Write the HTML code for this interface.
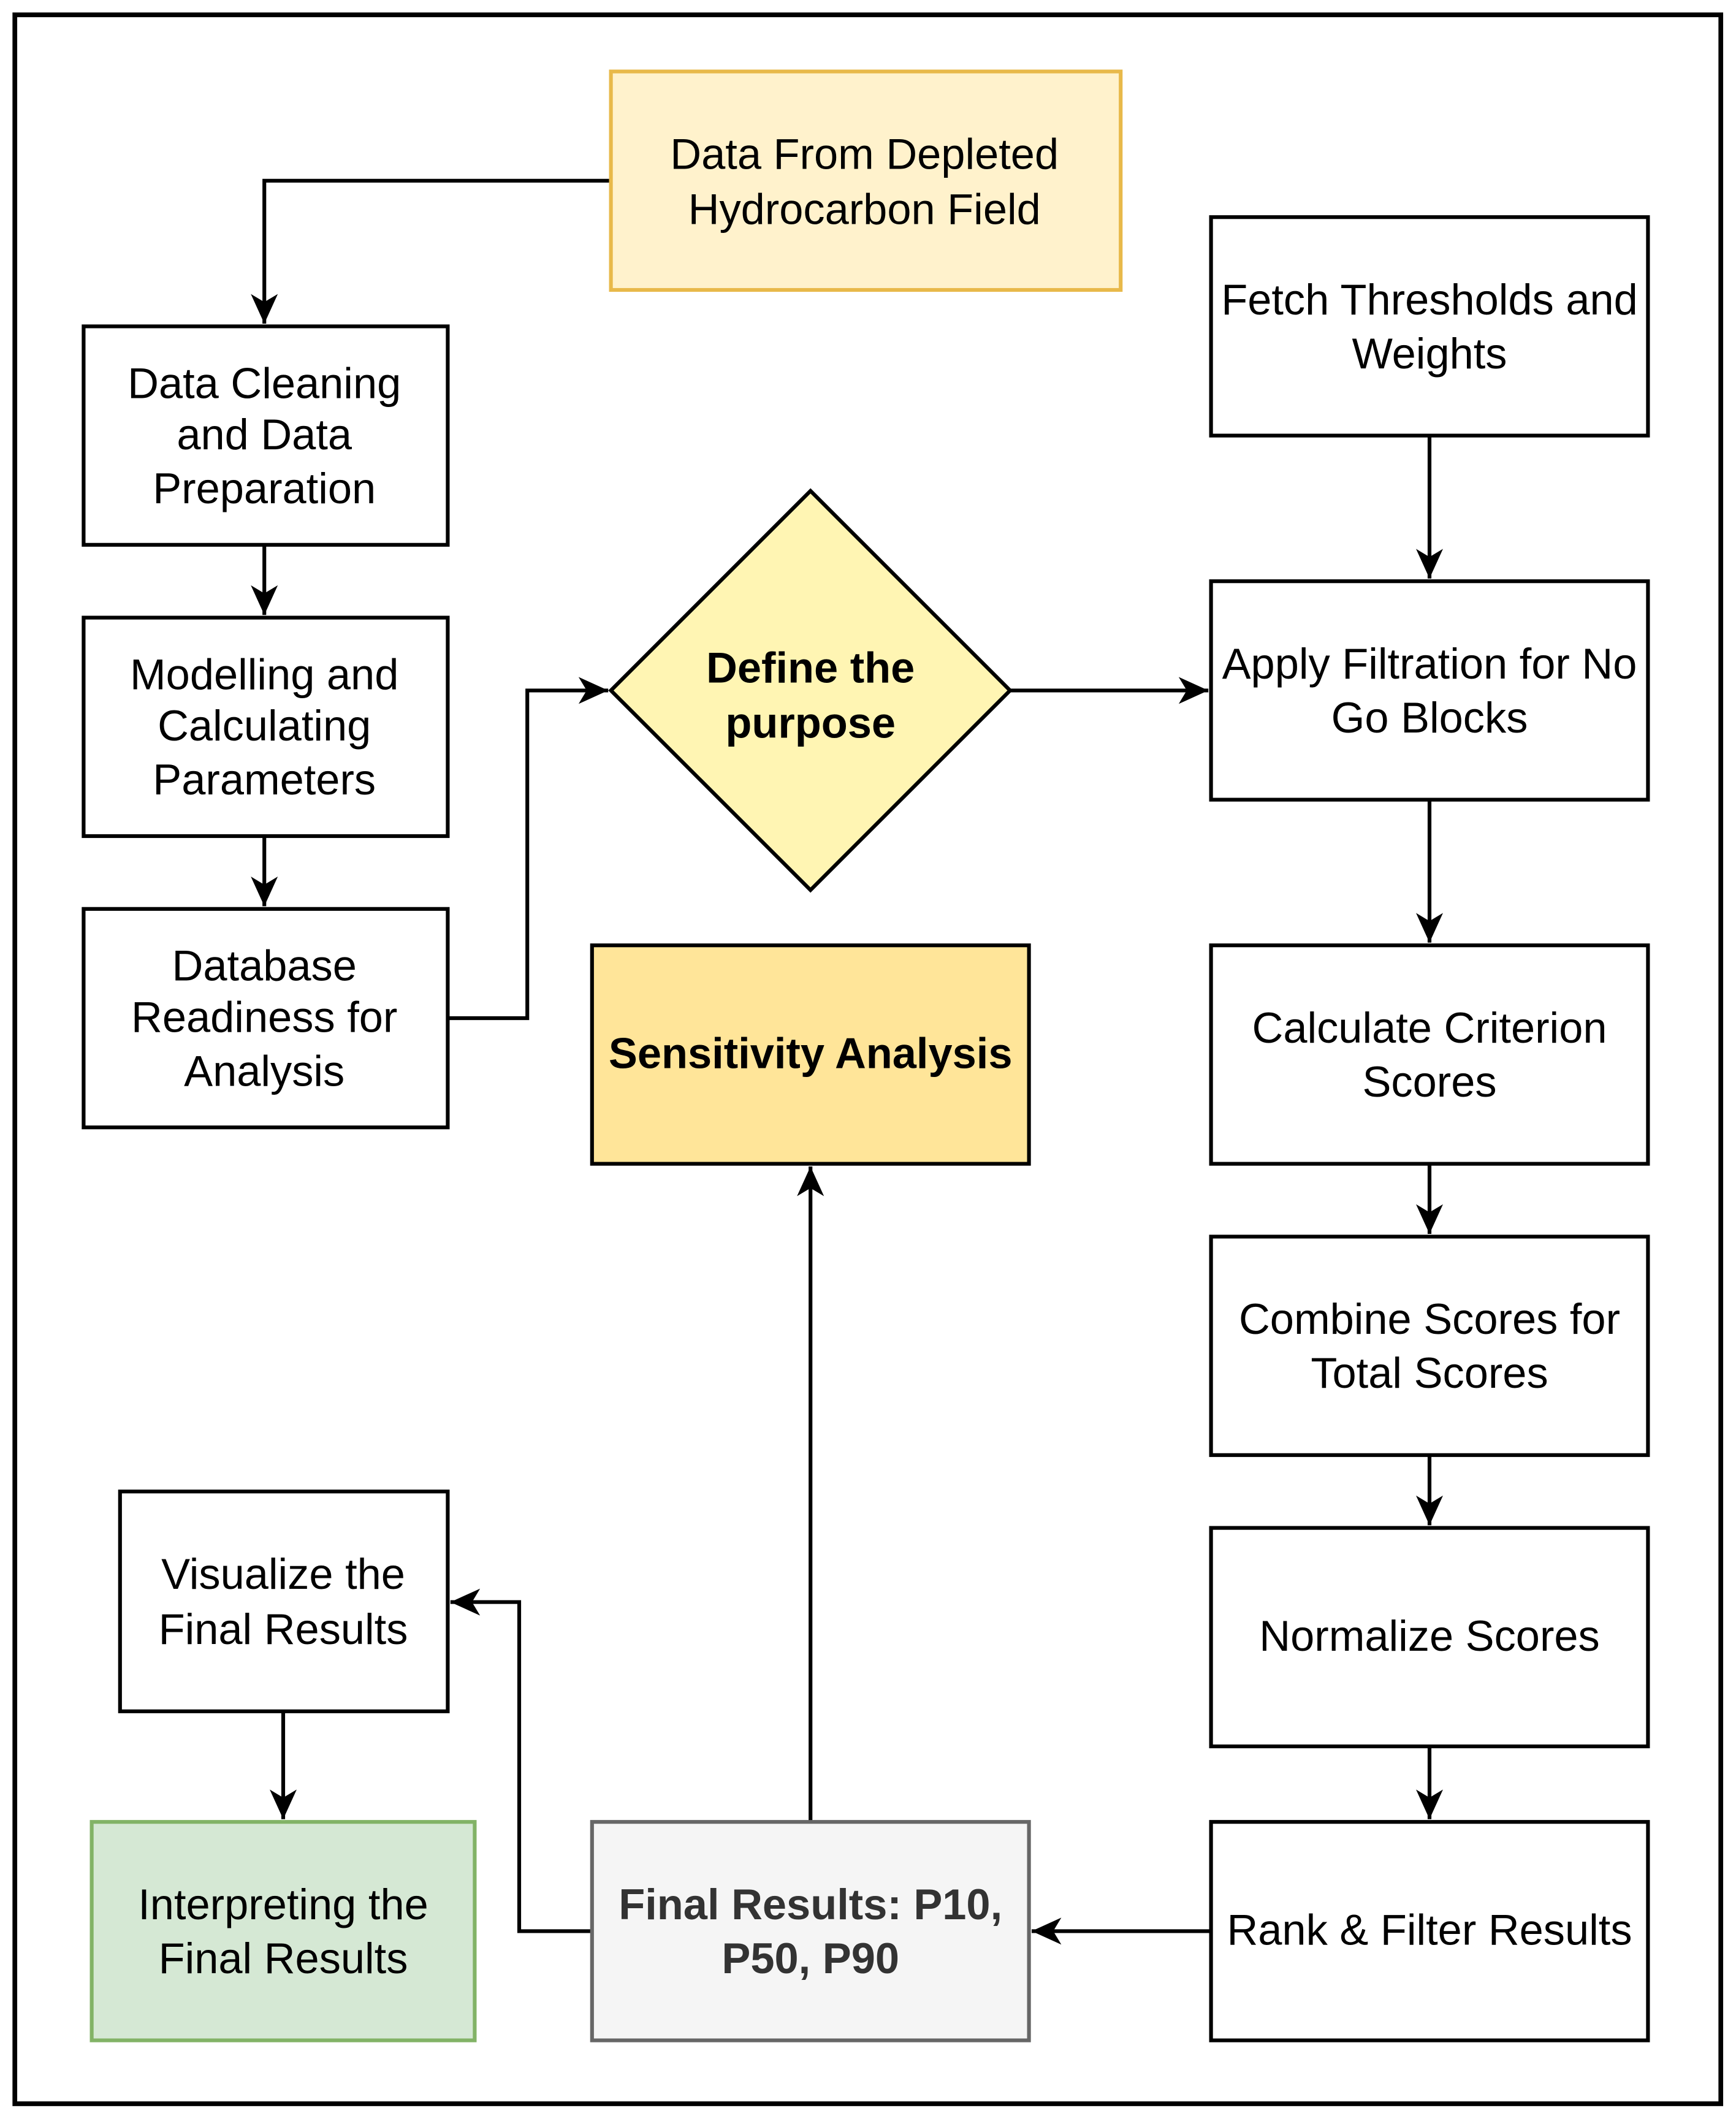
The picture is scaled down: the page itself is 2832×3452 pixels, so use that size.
<!DOCTYPE html>
<html><head><meta charset="utf-8"><style>html,body{margin:0;padding:0;background:#fff}svg{display:block}</style></head><body>
<svg width="2832" height="3452" viewBox="0 0 1287.27 1569.09" xmlns="http://www.w3.org/2000/svg" font-family="Liberation Sans, Arial, sans-serif">
<defs>
<marker id="b" markerWidth="24" markerHeight="24" refX="22" refY="12" orient="auto" markerUnits="userSpaceOnUse" viewBox="0 0 24 24"><path d="M0,2 L22,12 L0,22 L6,12 Z" fill="#000"/></marker></defs>
<rect x="0" y="0" width="1287.27" height="1569.09" fill="#fff"/>
<rect x="11" y="11" width="1265" height="1549" fill="none" stroke="#000" stroke-width="3.5"/>
<g fill="none" stroke="#000" stroke-width="2.8" marker-end="url(#b)">
<path d="M453,134 H196 V240"/>
<path d="M196,404 V456"/>
<path d="M196,620 V672"/>
<path d="M332,755 H391 V512 H451"/>
<path d="M749,512 H896"/>
<path d="M1060,323 V429"/>
<path d="M1060,593 V699"/>
<path d="M1060,863 V915"/>
<path d="M1060,1079 V1131"/>
<path d="M1060,1295 V1349"/>
<path d="M898,1432 H765"/>
<path d="M601,1351 V865"/>
<path d="M439,1432 H385 V1188 H334"/>
<path d="M210,1269 V1349"/>
</g>
<g stroke-width="2.8">
<rect x="453" y="53" width="378" height="162" fill="#fff2cc" stroke="#e8b94a"/>
<rect x="62" y="242" width="270" height="162" fill="#fff" stroke="#000"/>
<rect x="62" y="458" width="270" height="162" fill="#fff" stroke="#000"/>
<rect x="62" y="674" width="270" height="162" fill="#fff" stroke="#000"/>
<polygon points="601,364 749,512 601,660 453,512" fill="#fff5b3" stroke="#000"/>
<rect x="898" y="161" width="324" height="162" fill="#fff" stroke="#000"/>
<rect x="898" y="431" width="324" height="162" fill="#fff" stroke="#000"/>
<rect x="439" y="701" width="324" height="162" fill="#ffe599" stroke="#000"/>
<rect x="898" y="701" width="324" height="162" fill="#fff" stroke="#000"/>
<rect x="898" y="917" width="324" height="162" fill="#fff" stroke="#000"/>
<rect x="898" y="1133" width="324" height="162" fill="#fff" stroke="#000"/>
<rect x="898" y="1351" width="324" height="162" fill="#fff" stroke="#000"/>
<rect x="439" y="1351" width="324" height="162" fill="#f5f5f5" stroke="#666"/>
<rect x="89" y="1106" width="243" height="163" fill="#fff" stroke="#000"/>
<rect x="68" y="1351" width="284" height="162" fill="#d5e8d4" stroke="#82b366"/>
</g>
<g font-size="32" text-anchor="middle" dominant-baseline="central" fill="#000">
<text x="641" y="114">Data From Depleted</text><text x="641" y="155">Hydrocarbon Field</text>
<text x="196" y="284">Data Cleaning</text><text x="196" y="322">and Data</text><text x="196" y="362">Preparation</text>
<text x="196" y="500">Modelling and</text><text x="196" y="538">Calculating</text><text x="196" y="578">Parameters</text>
<text x="196" y="716">Database</text><text x="196" y="754">Readiness for</text><text x="196" y="794">Analysis</text>
<text x="1060" y="222">Fetch Thresholds and</text><text x="1060" y="262">Weights</text>
<text x="1060" y="492">Apply Filtration for No</text><text x="1060" y="532">Go Blocks</text>
<text x="1060" y="762">Calculate Criterion</text><text x="1060" y="802">Scores</text>
<text x="1060" y="978">Combine Scores for</text><text x="1060" y="1018">Total Scores</text>
<text x="1060" y="1213">Normalize Scores</text>
<text x="1060" y="1431">Rank &amp; Filter Results</text>
<text x="210" y="1167">Visualize the</text><text x="210" y="1208">Final Results</text>
<text x="210" y="1412">Interpreting the</text><text x="210" y="1452">Final Results</text>
<g font-weight="bold"><text x="601" y="495">Define the</text><text x="601" y="536">purpose</text>
<text x="601" y="781">Sensitivity Analysis</text>
<text x="601" y="1412" fill="#333">Final Results: P10,</text><text x="601" y="1452" fill="#333">P50, P90</text></g>
</g>
</svg>
</body></html>
